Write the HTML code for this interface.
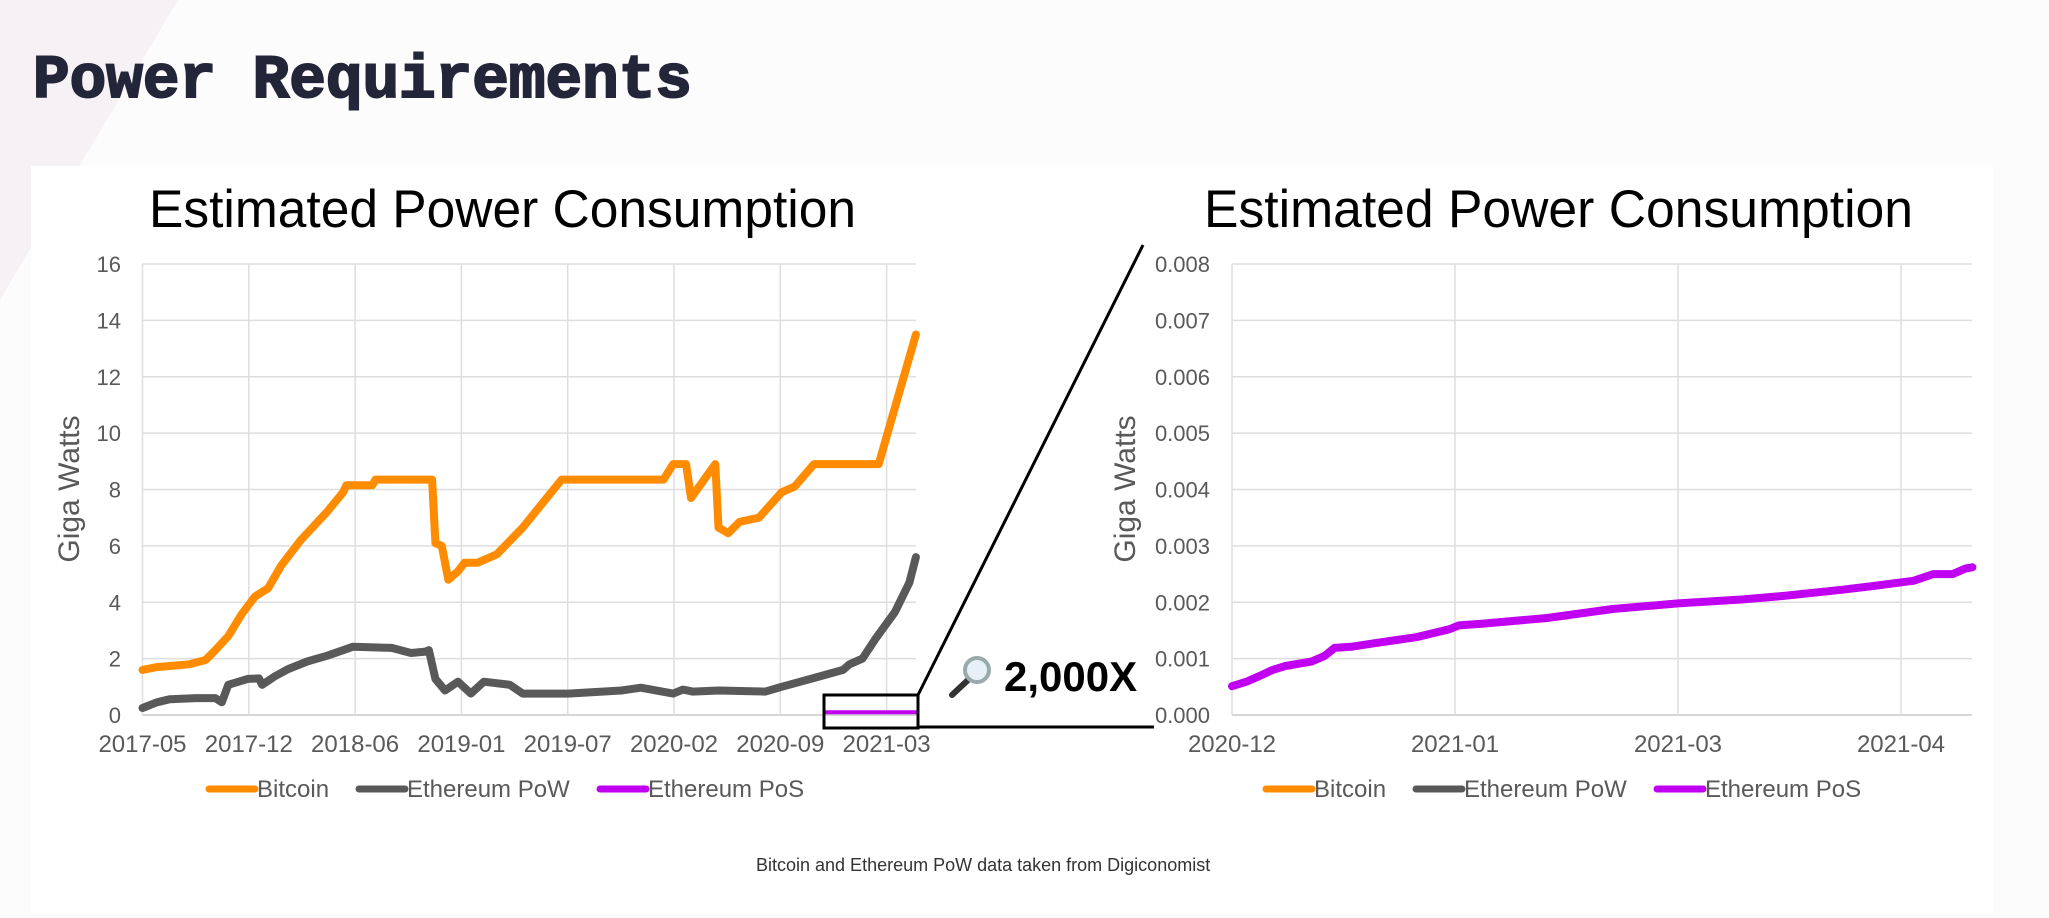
<!DOCTYPE html>
<html><head><meta charset="utf-8"><style>
html,body{margin:0;padding:0;}
body{width:2049px;height:913px;overflow:hidden;background:#fcfcfd;font-family:"Liberation Sans",sans-serif;}
</style></head><body>
<svg id="s" width="2049" height="913" viewBox="0 0 2049 913" xmlns="http://www.w3.org/2000/svg">
<polygon points="0,0 178,0 0,300" fill="#f6f1f5"/>
<text x="33" y="97" font-family="Liberation Mono, monospace" font-weight="bold" font-size="61" fill="#232538" stroke="#232538" stroke-width="2">Power Requirements</text>
<rect x="31" y="166" width="1962" height="747" fill="#ffffff"/>
<g id="left"></g>
<g id="right"></g>
<g>
<rect x="824" y="695" width="94" height="33" fill="none" stroke="#000" stroke-width="3"/>
<line x1="918" y1="695" x2="1143" y2="245" stroke="#000" stroke-width="3"/>
<line x1="918" y1="727" x2="1154" y2="727" stroke="#000" stroke-width="3"/>
<g>
<line x1="968" y1="680" x2="952" y2="695" stroke="#333" stroke-width="6" stroke-linecap="round"/>
<circle cx="977" cy="670" r="12" fill="#e8f0f7" stroke="#9aa" stroke-width="4"/>
</g>
<text x="1004" y="691" font-size="42" font-weight="bold" fill="#000">2,000X</text>
</g>
<text x="756" y="871" font-size="18" fill="#333">Bitcoin and Ethereum PoW data taken from Digiconomist</text>
</svg>
<script>
// Left chart data (x = months since 2017-05)
const btcMonths=[0,0.89,2.9,3.9,4.5,5.3,6.1,6.95,7.76,8.57,9.78,11.4,12.4,12.6,14.2,14.4,17.9,18.1,18.5,18.9,19.5,19.9,20.7,21.9,23.5,25.9,32.2,32.8,33.6,33.9,35.4,35.6,36.2,36.9,38.1,39.5,40.3,41.5,45.5,46.1,47.2,47.8];
const btcValues=[1.6,1.7,1.8,1.95,2.3,2.8,3.55,4.2,4.5,5.3,6.2,7.2,7.9,8.15,8.15,8.35,8.35,6.1,6.0,4.8,5.1,5.4,5.4,5.7,6.65,8.35,8.35,8.9,8.9,7.7,8.9,6.65,6.45,6.85,7.0,7.9,8.1,8.9,8.9,10.1,12.3,13.5];
const ethMonths=[0,0.89,1.7,3.3,4.5,4.9,5.3,6.5,7.2,7.4,8.2,9.0,10.2,11.4,13.0,15.4,16.6,17.5,17.7,18.1,18.7,19.5,20.3,21.1,22.7,23.5,26.3,29.6,30.8,32.8,33.4,34.0,35.6,38.5,39.5,41.3,43.3,43.7,44.5,45.3,46.5,47.4,47.8];
const ethValues=[0.25,0.45,0.56,0.6,0.6,0.45,1.07,1.28,1.3,1.07,1.38,1.63,1.9,2.1,2.42,2.38,2.2,2.25,2.3,1.28,0.87,1.18,0.76,1.18,1.07,0.76,0.76,0.87,0.97,0.76,0.9,0.83,0.87,0.83,1.0,1.28,1.6,1.8,2.0,2.7,3.65,4.7,5.6];
const posLeftMonths=[42.2,47.8];
const posLeftValues=[0.1,0.1];
const leftTickLabels=["2017-05","2017-12","2018-06","2019-01","2019-07","2020-02","2020-09","2021-03"];
const leftYTicks=[0,2,4,6,8,10,12,14,16];
// Right chart data (x = tick-interval units since 2020-12)
const posUnits=[0,0.065,0.123,0.182,0.24,0.358,0.416,0.46,0.534,0.651,0.827,0.974,1.018,1.12,1.413,1.707,2.0,2.293,2.469,2.733,2.88,3.056,3.144,3.232,3.29,3.32];
const posValues=[0.00051,0.00059,0.00069,0.0008,0.00087,0.00095,0.00105,0.00119,0.00121,0.00128,0.00138,0.00152,0.00159,0.00162,0.00172,0.00188,0.00198,0.00205,0.00211,0.00222,0.00229,0.00238,0.0025,0.0025,0.0026,0.00262];
const rightTickLabels=["2020-12","2021-01","2021-03","2021-04"];
const rightYTicks=["0.000","0.001","0.002","0.003","0.004","0.005","0.006","0.007","0.008"];

const NS="http://www.w3.org/2000/svg";
function mk(parent,tag,attrs){const e=document.createElementNS(NS,tag);for(const k in attrs)e.setAttribute(k,attrs[k]);parent.appendChild(e);return e;}
const T=264,B=715;
const C={btc:"#ff8c00",eth:"#595959",pos:"#c000f0"};

function drawChart(g,x0,x1,xScale,yScale,yTicks,yLabelX,yTitleX,tickLabels,tickPos,titleX,titleW,legendX){
  const title=mk(g,'text',{x:titleX,y:227,'font-size':53,fill:'#000',textLength:titleW,lengthAdjust:'spacingAndGlyphs'});
  title.textContent='Estimated Power Consumption';
  
  
  yTicks.forEach((t,i)=>{
    const y=yScale(i);
    const l=mk(g,'line',{x1:x0,x2:x1,y1:y,y2:y,stroke:i==0?'#c8c8c8':'#dedede','stroke-width':1.5});
    
    
    const tx=mk(g,'text',{x:yLabelX,y:y+8,'font-size':22,fill:'#595959','text-anchor':'end'});
    tx.textContent=t;
    
    
  });
  tickLabels.forEach((t,i)=>{
    const x=tickPos(i);
    const l=mk(g,'line',{x1:x,x2:x,y1:T,y2:B,stroke:'#dedede','stroke-width':1.5});
    
    
    const tx=mk(g,'text',{x:x,y:752,'font-size':24,fill:'#595959','text-anchor':'middle'});
    tx.textContent=t;
    
    
  });
  const yt=mk(g,'text',{x:yTitleX,y:489,'font-size':30,fill:'#595959','text-anchor':'middle',transform:`rotate(-90 ${yTitleX} 489)`,dy:10});
  yt.textContent='Giga Watts';
  
  
  const names=['Bitcoin','Ethereum PoW','Ethereum PoS'],cols=[C.btc,C.eth,C.pos];
  names.forEach((n,i)=>{
    const lg=mk(g,'g',{});
    
    
    const lx=legendX[i];
    mk(lg,'line',{x1:lx,x2:lx+46,y1:789,y2:789,stroke:cols[i],'stroke-width':7,'stroke-linecap':'round'});
    const tx=mk(lg,'text',{x:lx+48,y:797,'font-size':24,fill:'#595959'});
    tx.textContent=n;
  });
}
function line(g,xs,ys,xScale,yScale,color,name,w){
  const d=xs.map((x,i)=>(i?'L':'M')+xScale(x).toFixed(1)+','+yScale(ys[i]).toFixed(1)).join('');
  const p=mk(g,'path',{d:d,fill:'none',stroke:color,'stroke-width':w,'stroke-linejoin':'round','stroke-linecap':'round'});
  
  
}
// Left
const gl=document.getElementById('left');
const LX0=142.5,LX1=916,PPM=106.3/6.57;
const lx=m=>LX0+m*PPM;
const ly=v=>B-v/16*(B-T);
drawChart(gl,LX0,LX1,lx,i=>ly(leftYTicks[i]),leftYTicks,121,69,leftTickLabels,i=>LX0+i*106.3,149,707,[209,359,600]);
line(gl,ethMonths,ethValues,lx,ly,C.eth,'ethereum-pow-line',8);
line(gl,btcMonths,btcValues,lx,ly,C.btc,'bitcoin-line',8);
line(gl,posLeftMonths,posLeftValues,lx,ly,C.pos,'ethereum-pos-line',4);
// Right
const gr=document.getElementById('right');
const RX0=1232,RX1=1972,RU=223;
const rx=u=>RX0+u*RU;
const ry=v=>B-v/0.008*(B-T);
drawChart(gr,RX0,RX1,rx,i=>ry(parseFloat(rightYTicks[i])),rightYTicks,1210,1125,rightTickLabels,i=>RX0+i*RU,1204,709,[1266,1416,1657]);
line(gr,posUnits,posValues,rx,ry,C.pos,'ethereum-pos-line',8);
</script>
</body></html>
